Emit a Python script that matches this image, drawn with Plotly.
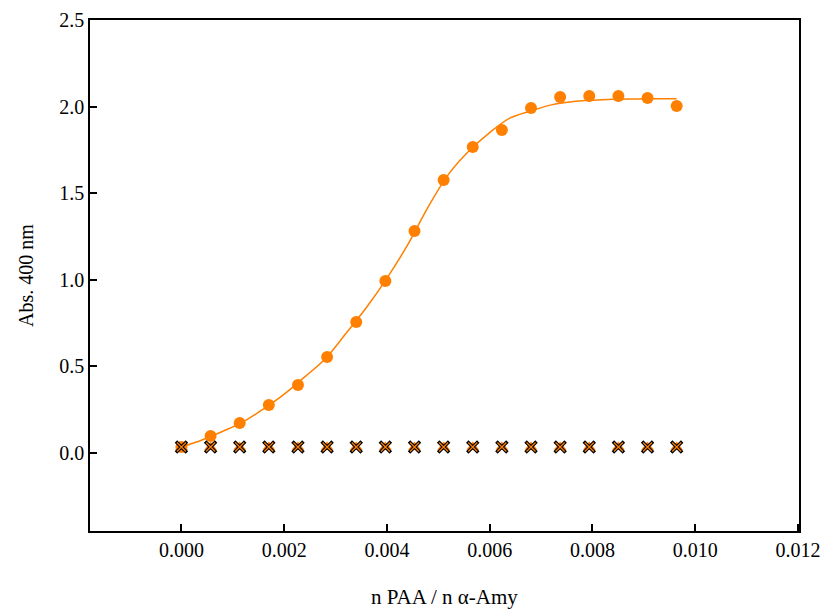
import plotly.graph_objects as go

# Data
ratio = [0.0, 0.000567, 0.001134, 0.001701, 0.002268, 0.002835, 0.003402,
         0.003969, 0.004536, 0.005103, 0.00567, 0.006237, 0.006804,
         0.007371, 0.007938, 0.008505, 0.009072, 0.009639]
abs_active = [0.035, 0.098, 0.173, 0.277, 0.393, 0.554, 0.756, 0.993, 1.282,
              1.576, 1.767, 1.865, 1.992, 2.055, 2.061, 2.061, 2.050, 2.003]
abs_control = [0.035] * 18

fit_x = [0.0, 0.0004, 0.0008, 0.0012, 0.0016, 0.0020, 0.0024, 0.0028, 0.0032,
         0.0036, 0.0040, 0.0044, 0.0048, 0.0052, 0.0056, 0.0060, 0.0064,
         0.0068, 0.0072, 0.0076, 0.0080, 0.0084, 0.0088, 0.0092, 0.009639]
fit_y = [0.035, 0.075, 0.125, 0.180, 0.255, 0.340, 0.440, 0.545, 0.690,
         0.840, 1.010, 1.200, 1.420, 1.610, 1.745, 1.850, 1.935,
         1.975, 2.010, 2.028, 2.037, 2.042, 2.044, 2.045, 2.045]

x_ticks = [0.000, 0.002, 0.004, 0.006, 0.008, 0.010, 0.012]
y_ticks = [0.0, 0.5, 1.0, 1.5, 2.0, 2.5]

ORANGE = "#FF8000"
FONT = "Liberation Serif"

fig = go.Figure()
fig.add_trace(go.Scatter(x=fit_x, y=fit_y, mode="lines", line=dict(color=ORANGE, width=1.5, shape="spline"),
                         showlegend=False, hoverinfo="skip"))
fig.add_trace(go.Scatter(x=ratio, y=abs_active, mode="markers",
                         marker=dict(symbol="circle", size=12, color=ORANGE, line=dict(width=0)),
                         showlegend=False))
fig.add_trace(go.Scatter(x=ratio, y=abs_control, mode="markers",
                         marker=dict(symbol="triangle-up", size=11, color=ORANGE, line=dict(width=0)),
                         showlegend=False))
fig.add_trace(go.Scatter(x=ratio, y=abs_control, mode="markers",
                         marker=dict(symbol="x-thin", size=11, line=dict(width=3.5, color="black")),
                         showlegend=False))
fig.add_trace(go.Scatter(x=ratio, y=abs_control, mode="markers",
                         marker=dict(symbol="x-thin", size=9, line=dict(width=1.2, color=ORANGE)),
                         showlegend=False))

fig.update_layout(
    width=821, height=609,
    margin=dict(l=90, r=22, t=20, b=78),
    paper_bgcolor="white", plot_bgcolor="white",
    font=dict(family=FONT, size=20, color="black"),
    xaxis=dict(range=[-0.00178, 0.01202], tickvals=x_ticks, ticktext=[f"{v:.3f}" for v in x_ticks],
               ticks="inside", ticklen=7, tickwidth=1.5, tickcolor="black",
               showline=True, linecolor="black", linewidth=1.5, mirror=True,
               showgrid=False, zeroline=False, tickfont=dict(size=20), automargin=False,
               title=dict(text="n PAA / n α-Amy", font=dict(size=21), standoff=35)),
    yaxis=dict(range=[-0.45, 2.5], tickvals=y_ticks, ticktext=[f"{v:.1f}" for v in y_ticks],
               ticks="inside", ticklen=7, tickwidth=1.5, tickcolor="black",
               showline=True, linecolor="black", linewidth=1.5, mirror=True,
               showgrid=False, zeroline=False, tickfont=dict(size=20), automargin=False,
               title=dict(text="Abs. 400 nm", font=dict(size=20), standoff=20)),
)

fig.write_html("out.html")
